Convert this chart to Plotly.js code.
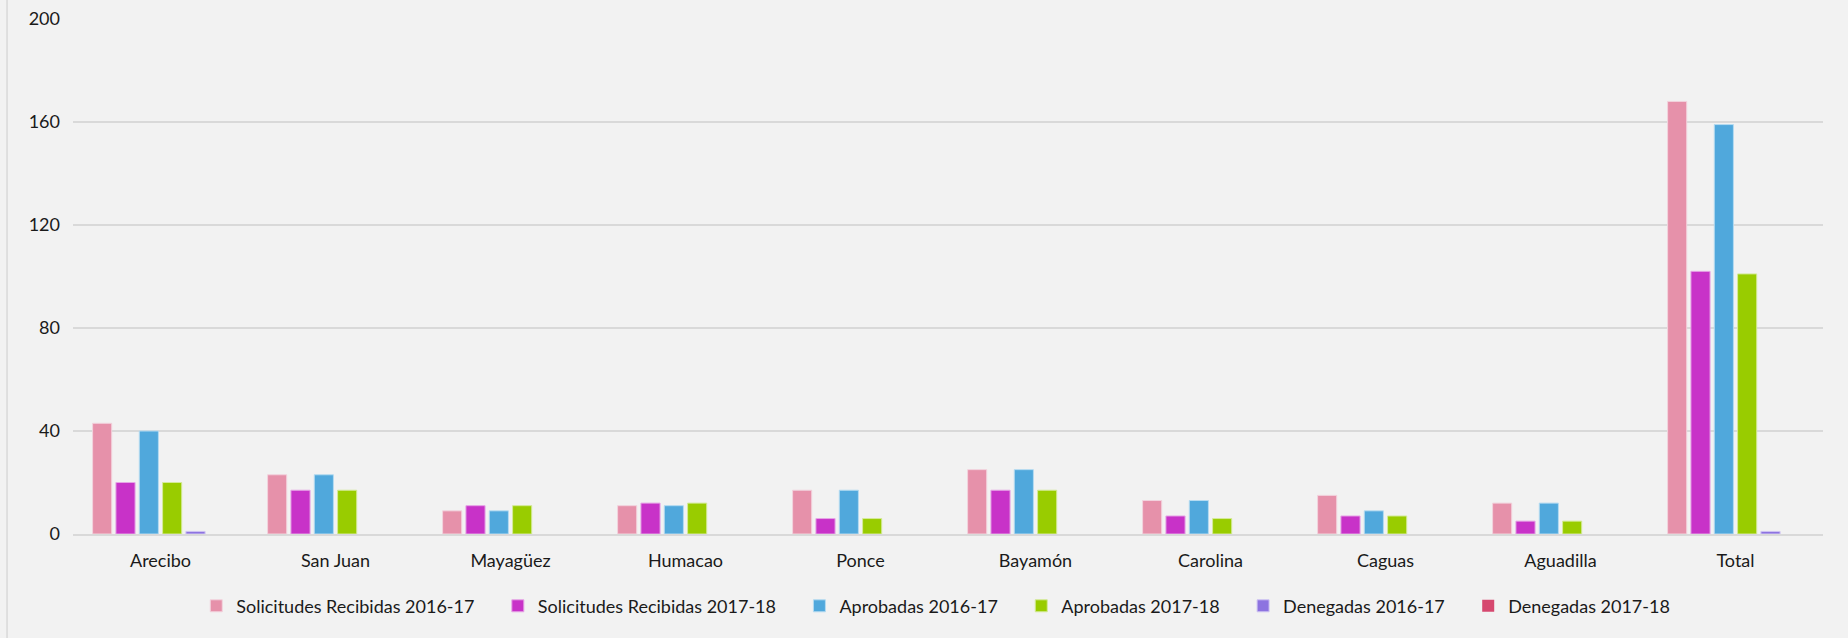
<!DOCTYPE html>
<html>
<head>
<meta charset="utf-8">
<script src="https://cdn.plot.ly/plotly-3.0.1.min.js"></script>
<style>
  html, body { margin: 0; padding: 0; background: #f2f2f2; }
  #chart { width: 1848px; height: 638px; }
</style>
</head>
<body>
<div id="chart"></div>
<script>
const categories = ["Arecibo", "San Juan", "Mayagüez", "Humacao", "Ponce", "Bayamón", "Carolina", "Caguas", "Aguadilla", "Total"];
const seriesNames = ["Solicitudes Recibidas 2016-17", "Solicitudes Recibidas 2017-18", "Aprobadas 2016-17", "Aprobadas 2017-18", "Denegadas 2016-17", "Denegadas 2017-18"];
const recibidas1617 = [43, 23, 9, 11, 17, 25, 13, 15, 12, 168];
const recibidas1718 = [20, 17, 11, 12, 6, 17, 7, 7, 5, 102];
const aprobadas1617 = [40, 23, 9, 11, 17, 25, 13, 9, 12, 159];
const aprobadas1718 = [20, 17, 11, 12, 6, 17, 6, 7, 5, 101];
const denegadas1617 = [1, 0, 0, 0, 0, 0, 0, 0, 0, 1];
const denegadas1718 = [0, 0, 0, 0, 0, 0, 0, 0, 0, 0];
const yTicks = [0, 40, 80, 120, 160, 200];

const seriesValues = [recibidas1617, recibidas1718, aprobadas1617, aprobadas1718, denegadas1617, denegadas1718];
const colors = ["#e691aa", "#c832c8", "#50a8dc", "#99cc00", "#8d73e0", "#d6486f"];
const lineColors = ["#f2d3dd", "#e6a5e6", "#b5dbf1", "#d4ea99", "#cfc4f2", "#eeb5c5"];
const legendPad = "\u00a0\u00a0\u00a0\u00a0";

const traces = seriesNames.map((name, i) => ({
  type: "bar",
  name: name + (i < seriesNames.length - 1 ? legendPad : ""),
  x: categories,
  y: seriesValues[i],
  marker: {
    color: colors[i],
    line: { color: lineColors[i], width: seriesValues[i].map(v => (v === 0 ? 0 : 1)) }
  },
  hoverinfo: "x+y"
}));

const font = { family: "Lato, 'Open Sans', sans-serif", size: 18, color: "#1a1a1a" };

const layout = {
  width: 1848,
  height: 638,
  paper_bgcolor: "#f2f2f2",
  plot_bgcolor: "#f2f2f2",
  margin: { l: 73, r: 25, t: 19, b: 104 },
  barmode: "group",
  bargap: 0.2,
  bargroupgap: 0.18,
  font: font,
  xaxis: {
    type: "category",
    showline: true,
    linecolor: "#d9d9d9",
    linewidth: 1.5,
    ticks: "",
    tickfont: font,
    ticklabelstandoff: 10,
    showgrid: false,
    zeroline: false
  },
  yaxis: {
    range: [0, 200],
    tickvals: yTicks,
    ticktext: yTicks.map(String),
    showgrid: true,
    gridcolor: "#d9d9d9",
    gridwidth: 1.5,
    zeroline: false,
    ticks: "",
    ticklabelstandoff: 12,
    tickfont: font
  },
  showlegend: true,
  legend: {
    orientation: "h",
    x: 0.493,
    xanchor: "center",
    y: -0.14,
    yanchor: "middle",
    font: font,
    itemwidth: 30,
    bgcolor: "rgba(0,0,0,0)",
    traceorder: "normal"
  },
  shapes: [
    { type: "line", xref: "paper", yref: "paper", x0: -0.0377, x1: -0.0377, y0: -0.21, y1: 1.04,
      line: { color: "#d9d9d9", width: 1.5 } }
  ]
};

Plotly.newPlot("chart", traces, layout, { displayModeBar: false, staticPlot: true });
</script>
</body>
</html>
